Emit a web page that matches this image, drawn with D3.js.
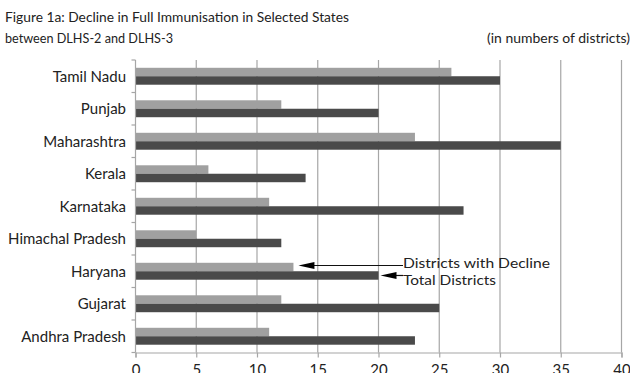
<!DOCTYPE html>
<html>
<head>
<meta charset="utf-8">
<script src="https://cdn.jsdelivr.net/npm/d3@7"></script>
<style>
  html, body { margin: 0; padding: 0; background: #fff; }
  svg { display: block; }
  text { font-family: Lato, "Open Sans", sans-serif; fill: #222; }
</style>
</head>
<body>
<svg id="chart" width="630" height="373"></svg>
<script>
// States, top to bottom
const states = ["Tamil Nadu", "Punjab", "Maharashtra", "Kerala", "Karnataka",
  "Himachal Pradesh", "Haryana", "Gujarat", "Andhra Pradesh"];
// Districts showing a decline in full immunisation
const declineDistricts = [26, 12, 23, 6, 11, 5, 13, 12, 11];
// Total districts per state
const totalDistricts = [30, 20, 35, 14, 27, 12, 20, 25, 23];
const xTicks = [0, 5, 10, 15, 20, 25, 30, 35, 40];
const seriesNames = ["Districts with Decline", "Total Districts"];
const calloutState = "Haryana";

const svg = d3.select("#chart");
const plotLeft = 135.5, plotRight = 621.5, plotTop = 60, plotBottom = 352.5;

const x = d3.scaleLinear().domain([0, 40]).range([plotLeft, plotRight]);
const y = d3.scaleBand().domain(states).range([plotTop, plotBottom]);
const sub = d3.scaleBand().domain(["decline", "total"])
  .range([0, y.bandwidth()]).paddingOuter(0.92);

const lightFill = "#a0a0a0", darkFill = "#4a4a4a", gridColor = "#a6a6a6";

// Titles
svg.append("text").attr("x", 5).attr("y", 22)
  .attr("font-size", 14).attr("textLength", 344).attr("lengthAdjust", "spacingAndGlyphs")
  .text("Figure 1a: Decline in Full Immunisation in Selected States");
svg.append("text").attr("x", 5).attr("y", 43)
  .attr("font-size", 14).attr("textLength", 168).attr("lengthAdjust", "spacingAndGlyphs")
  .text("between DLHS-2 and DLHS-3");
svg.append("text").attr("x", 630).attr("y", 43).attr("text-anchor", "end")
  .attr("font-size", 14).attr("textLength", 143).attr("lengthAdjust", "spacingAndGlyphs")
  .text("(in numbers of districts)");

// Vertical gridlines
svg.append("g").selectAll("line").data(xTicks.filter(d => d > 0)).join("line")
  .attr("x1", d => x(d)).attr("x2", d => x(d))
  .attr("y1", plotTop).attr("y2", plotBottom)
  .attr("stroke", gridColor).attr("stroke-width", 1.2);

// Bars
const rows = svg.append("g").selectAll("g").data(states).join("g")
  .attr("transform", d => `translate(0,${y(d)})`);
rows.append("rect")
  .attr("x", x(0)).attr("y", sub("decline"))
  .attr("width", (d, i) => x(declineDistricts[i]) - x(0))
  .attr("height", sub.bandwidth()).attr("fill", lightFill);
rows.append("rect")
  .attr("x", x(0)).attr("y", sub("total"))
  .attr("width", (d, i) => x(totalDistricts[i]) - x(0))
  .attr("height", sub.bandwidth()).attr("fill", darkFill);

// X axis
const xAxis = svg.append("g").attr("transform", `translate(0,${plotBottom})`)
  .call(d3.axisBottom(x).tickValues(xTicks).tickSize(5).tickPadding(7));
xAxis.select(".domain").attr("stroke", gridColor).attr("stroke-width", 1.2);
xAxis.selectAll(".tick line").attr("stroke", gridColor).attr("stroke-width", 1.2);
xAxis.selectAll(".tick text").attr("font-size", 15).attr("fill", "#222")
  .attr("font-family", "Lato, 'Open Sans', sans-serif");

// Y axis: ticks on category boundaries, labels centred on bands
const yAxisG = svg.append("g");
yAxisG.append("line").attr("x1", plotLeft).attr("x2", plotLeft)
  .attr("y1", plotTop).attr("y2", plotBottom)
  .attr("stroke", gridColor).attr("stroke-width", 1.2);
const boundaries = states.map(d => y(d)).concat([plotBottom]);
yAxisG.selectAll("line.b").data(boundaries).join("line").attr("class", "b")
  .attr("x1", plotLeft - 4).attr("x2", plotLeft).attr("y1", d => d).attr("y2", d => d)
  .attr("stroke", gridColor).attr("stroke-width", 1.2);
yAxisG.selectAll("text").data(states).join("text")
  .attr("x", 126).attr("y", d => y(d) + y.bandwidth() / 2)
  .attr("dy", "0.35em").attr("text-anchor", "end").attr("font-size", 15)
  .text(d => d);

// Callout arrows on one state's bars
const ci = states.indexOf(calloutState);
const textX = 403;
const callouts = [
  { name: seriesNames[0], value: declineDistricts[ci], gap: 5, yy: y(calloutState) + sub("decline") + sub.bandwidth() / 2 - 1.5, ty: 268 },
  { name: seriesNames[1], value: totalDistricts[ci], gap: 2, yy: y(calloutState) + sub("total") + sub.bandwidth() / 2, ty: 284.5 }
];
const cg = svg.append("g").selectAll("g").data(callouts).join("g");
cg.append("line")
  .attr("x1", d => x(d.value) + d.gap + 14).attr("x2", textX)
  .attr("y1", d => d.yy).attr("y2", d => d.yy)
  .attr("stroke", "#111").attr("stroke-width", 1.2);
cg.append("path")
  .attr("d", d => {
    const tip = x(d.value) + d.gap;
    return `M${tip},${d.yy}L${tip + 16},${d.yy - 3.5}L${tip + 16},${d.yy + 3.5}Z`;
  })
  .attr("fill", "#000");
cg.append("text").attr("x", textX).attr("y", d => d.ty)
  .attr("font-size", 14).attr("textLength", d => d.name.length > 16 ? 147 : 93)
  .attr("lengthAdjust", "spacingAndGlyphs")
  .text(d => d.name);
</script>
</body>
</html>
